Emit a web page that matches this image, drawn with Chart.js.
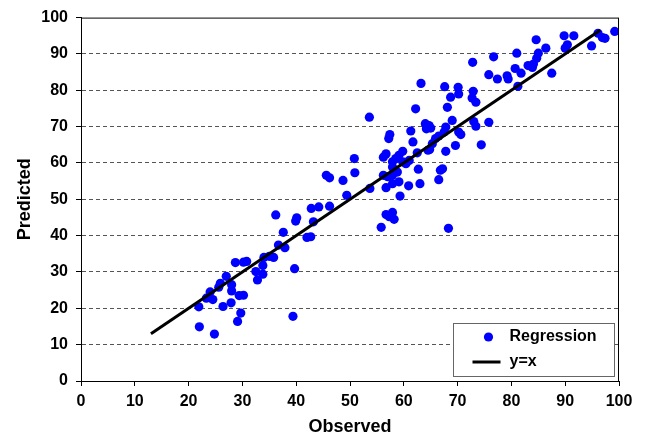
<!DOCTYPE html>
<html>
<head>
<meta charset="utf-8">
<script src="https://cdn.jsdelivr.net/npm/chart.js@4"></script>
<style>
  html, body { margin: 0; padding: 0; background: #fff; }
  #wrap { width: 646px; height: 438px; }
</style>
</head>
<body>
<div id="wrap"><canvas id="chart-scatter" width="646" height="438"></canvas></div>
<script>
// data
const observed = [22.0, 24.8, 21.9, 23.3, 24.5, 24.0, 26.4, 27.9, 29.7, 29.1, 29.4, 30.2, 28.0, 28.0, 25.6, 25.9, 27.0, 28.7, 30.2, 30.8,
    32.5, 32.8, 33.8, 33.8, 34.0, 35.0, 35.8, 36.7, 37.9, 37.6, 36.2, 39.7, 39.4, 40.1, 39.9, 42.0, 42.7, 43.2, 42.8, 44.2,
    46.2, 45.6, 46.2, 48.7, 49.4, 50.8, 50.9, 53.6, 53.7, 55.8, 56.7, 57.9, 58.2, 57.3, 56.2, 57.0, 56.7, 57.9, 59.1, 60.9,
    63.0, 59.3, 57.9, 58.8, 57.9, 62.7, 56.7, 56.2, 59.8, 59.1, 58.5, 57.9, 59.8, 61.0, 60.4, 62.5, 57.4, 57.2, 61.3, 61.7,
    64.5, 62.2, 63.2, 64.0, 64.2, 64.7, 65.0, 67.6, 70.1, 70.2, 68.7, 68.1, 72.9, 72.7, 73.4, 69.0, 73.0, 73.4, 75.8, 67.8,
    67.5, 66.5, 65.9, 65.3, 64.8, 70.2, 70.6, 69.6, 74.4, 67.8, 67.2, 66.8, 66.5, 68.3, 72.8, 76.7, 75.8, 77.4, 79.2, 79.4,
    80.7, 81.8, 81.2, 81.0, 84.6, 86.4, 85.0, 84.7, 84.1, 83.1, 83.9, 87.5, 89.8, 91.6, 90.0, 90.4, 94.9, 96.1, 96.9, 97.4,
    99.2];
const predicted = [14.9, 12.9, 20.4, 22.8, 22.4, 24.5, 20.5, 21.5, 18.7, 16.4, 23.5, 23.6, 24.8, 26.5, 25.8, 26.9, 28.8, 32.6, 32.7, 32.9,
    30.1, 27.8, 29.4, 31.8, 34.0, 34.3, 34.0, 37.4, 36.7, 40.9, 45.7, 30.9, 17.8, 44.9, 44.0, 39.5, 39.7, 43.8, 47.5, 47.9,
    48.1, 56.6, 55.9, 55.2, 51.1, 61.2, 57.3, 72.6, 53.0, 42.3, 45.8, 46.4, 44.5, 45.2, 56.6, 56.2, 53.2, 54.3, 54.8, 53.7,
    54.3, 50.9, 56.6, 57.5, 58.9, 58.3, 62.5, 61.6, 63.2, 62.1, 61.2, 60.3, 60.3, 60.7, 59.8, 62.8, 67.8, 66.7, 68.8, 65.8,
    63.5, 74.9, 81.9, 70.8, 69.4, 70.3, 69.6, 81.0, 80.8, 79.0, 78.1, 75.3, 79.7, 77.9, 76.7, 71.7, 71.4, 70.1, 71.2, 69.9,
    68.5, 67.4, 66.7, 65.3, 63.7, 68.5, 67.8, 64.8, 65.0, 63.2, 58.4, 58.0, 55.4, 42.0, 87.7, 89.2, 84.3, 83.1, 84.0, 83.1,
    86.0, 84.7, 81.1, 90.2, 93.9, 91.6, 90.2, 88.8, 87.2, 86.8, 86.3, 84.7, 95.0, 95.0, 91.6, 92.5, 92.2, 95.7, 94.5, 94.3,
    96.2];
const lineEnds = [13, 96.5];
const seriesNames = ['Regression', 'y=x'];
const axisTicks = [0, 10, 20, 30, 40, 50, 60, 70, 80, 90, 100];

const FONT = 'Liberation Sans, Arial, Helvetica, sans-serif';

// box round the plot + legend in the lower right corner
const frameAndLegend = {
    id: 'frameAndLegend',
    afterDraw(chart) {
        const {ctx, chartArea: a} = chart;
        ctx.save();
        ctx.strokeStyle = '#000';
        ctx.lineWidth = 1;
        ctx.strokeRect(a.left + 0.5, a.top + 0.5, a.right - a.left - 1, a.bottom - a.top);

        const bw = 161, bh = 53;
        const bx = Math.round(a.right - 5 - bw) + 0.5;
        const by = Math.round(a.bottom - 5 - bh) + 0.5;
        ctx.fillStyle = '#fff';
        ctx.fillRect(bx, by, bw, bh);
        ctx.strokeStyle = '#666';
        ctx.strokeRect(bx, by, bw, bh);

        ctx.font = 'bold 16px ' + FONT;
        ctx.textBaseline = 'middle';
        ctx.fillStyle = '#000';

        // regression row
        ctx.beginPath();
        ctx.fillStyle = '#0000ff';
        ctx.arc(bx + 35, by + 13.5, 4.6, 0, Math.PI * 2);
        ctx.fill();
        ctx.fillStyle = '#000';
        ctx.fillText(chart.data.datasets[1].label, bx + 56, by + 13.5);

        // y=x row
        ctx.beginPath();
        ctx.strokeStyle = '#000';
        ctx.lineWidth = 3;
        ctx.moveTo(bx + 19, by + 38.5);
        ctx.lineTo(bx + 47, by + 38.5);
        ctx.stroke();
        ctx.fillText(chart.data.datasets[0].label, bx + 56, by + 38);
        ctx.restore();
    }
};

const chartScatter = document.getElementById('chart-scatter');

new Chart(chartScatter, {
    type: 'scatter',
    data: {
        datasets: [{
            type: 'line',
            label: seriesNames[1],
            data: lineEnds.map(v => ({x: v, y: v})),
            borderColor: '#000',
            borderWidth: 3,
            pointRadius: 0,
            order: 0
        }, {
            label: seriesNames[0],
            data: observed.map((v, i) => ({x: v, y: predicted[i]})),
            backgroundColor: '#0000ff',
            borderWidth: 0,
            pointRadius: 4.6,
            order: 1
        }]
    },
    plugins: [frameAndLegend],
    options: {
        responsive: false,
        animation: false,
        layout: {
            padding: {left: 0, top: 15, right: 27, bottom: 0}
        },
        plugins: {
            legend: {display: false},
            tooltip: {enabled: false}
        },
        scales: {
            x: {
                type: 'linear',
                min: 0,
                max: 100,
                afterBuildTicks: s => { s.ticks = axisTicks.map(v => ({value: v})); },
                afterFit: s => { s.height = 57; },
                ticks: {
                    color: '#000',
                    padding: 6,
                    maxRotation: 0,
                    font: {family: FONT, size: 16, weight: 'bold'}
                },
                grid: {
                    drawOnChartArea: false,
                    tickLength: 5,
                    tickColor: '#000',
                    tickBorderDash: []
                },
                border: {color: '#000', width: 1},
                title: {
                    display: true,
                    text: 'Observed',
                    color: '#000',
                    padding: {top: 0, bottom: 0},
                    font: {family: FONT, size: 18, weight: 'bold'}
                }
            },
            y: {
                type: 'linear',
                min: 0,
                max: 100,
                afterBuildTicks: s => { s.ticks = axisTicks.map(v => ({value: v})); },
                afterFit: s => { s.width = 81; },
                ticks: {
                    color: '#000',
                    padding: 8,
                    font: {family: FONT, size: 16, weight: 'bold'}
                },
                grid: {
                    color: c => (c.tick && (c.tick.value === 0 || c.tick.value === 100)) ? 'rgba(0,0,0,0)' : '#555',
                    lineWidth: 1,
                    borderDash: [4, 3],
                    tickLength: 5,
                    tickColor: '#000',
                    tickBorderDash: []
                },
                border: {color: '#000', width: 1, dash: [4, 3]},
                title: {
                    display: true,
                    text: 'Predicted',
                    color: '#000',
                    padding: {top: 14, bottom: 0},
                    font: {family: FONT, size: 18, weight: 'bold'}
                }
            }
        }
    }
});
</script>
</body>
</html>
